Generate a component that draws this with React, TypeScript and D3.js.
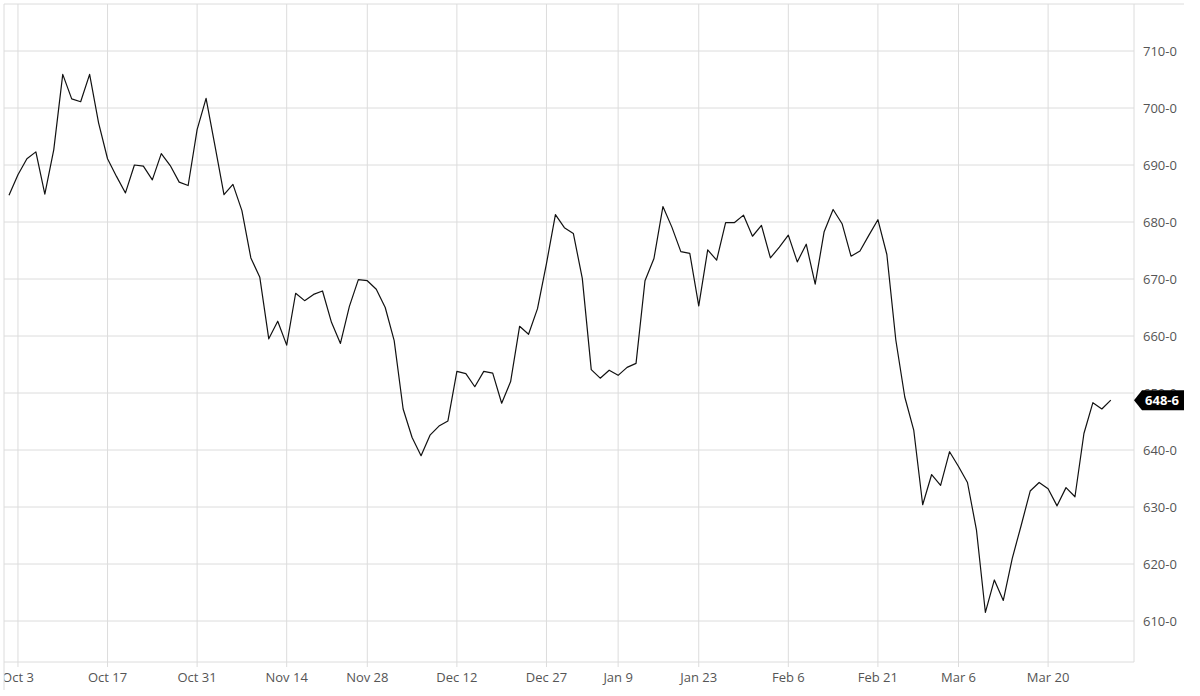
import React from "react";
import * as d3 from "d3";

// ---- Data ----
const startDate = "2022-09-30";
const endDate = "2023-03-29";
const holidays = ["2022-11-24", "2022-12-26", "2023-01-02", "2023-01-16", "2023-02-20"];

const prices = [
  684.7, 688.3, 691.1, 692.3, 684.9, 692.7, 705.9, 701.6, 701.1, 705.9,
  697.4, 691.1, 688.0, 685.1, 690.0, 689.8, 687.4, 692.0, 689.9, 687.0,
  686.4, 696.2, 701.7, 693.3, 684.8, 686.6, 682.0, 673.7, 670.3, 659.5,
  662.6, 658.4, 667.5, 666.2, 667.3, 667.9, 662.4, 658.7, 665.2, 669.9,
  669.7, 668.2, 665.0, 659.2, 647.2, 642.2, 639.0, 642.6, 644.2, 645.1,
  653.8, 653.4, 651.1, 653.8, 653.5, 648.2, 652.0, 661.7, 660.3, 664.8,
  672.7, 681.3, 679.0, 678.0, 670.1, 654.1, 652.6, 654.0, 653.1, 654.5,
  655.2, 669.7, 673.6, 682.7, 679.1, 674.8, 674.5, 665.3, 675.1, 673.3,
  679.9, 679.9, 681.2, 677.5, 679.4, 673.7, 675.6, 677.7, 673.0, 676.1,
  669.1, 678.3, 682.2, 679.7, 674.0, 674.9, 677.7, 680.4, 674.3, 659.3,
  649.3, 643.5, 630.4, 635.7, 633.8, 639.7, 637.1, 634.3, 626.0, 611.5,
  617.2, 613.6, 621.0, 626.8, 632.8, 634.3, 633.2, 630.2, 633.4, 631.8,
  642.9, 648.3, 647.2, 648.75,
];

const xTickDates = [
  "2022-10-03", "2022-10-17", "2022-10-31", "2022-11-14", "2022-11-28",
  "2022-12-12", "2022-12-27", "2023-01-09", "2023-01-23", "2023-02-06",
  "2023-02-21", "2023-03-06", "2023-03-20",
];
const yTicks = [610, 620, 630, 640, 650, 660, 670, 680, 690, 700, 710];

// trading calendar (weekdays minus exchange holidays)
const parse = d3.utcParse("%Y-%m-%d");
const fmtKey = d3.utcFormat("%Y-%m-%d");
const tradingDays: string[] = d3.utcDays(parse(startDate)!, d3.utcDay.offset(parse(endDate)!, 1))
  .filter((d) => d.getUTCDay() !== 0 && d.getUTCDay() !== 6)
  .map((d) => fmtKey(d))
  .filter((k) => !holidays.includes(k));

const fmtTick = d3.utcFormat("%b %-d");
const fmtPrice = (v: number) => {
  const whole = Math.floor(v + 1e-9);
  const eighths = Math.round((v - whole) * 8);
  return `${whole}-${eighths}`;
};

export default function App() {
  const W = 1200;
  const H = 696;
  const plot = { left: 4, right: 1134, top: 4, bottom: 662 };

  const x = d3.scalePoint<string>().domain(tradingDays).range([9, 1110.8]);
  const y = d3.scaleLinear().domain([610, 710]).range([621, 51]);

  const data = tradingDays.map((d, i) => ({ d, v: prices[i] }));
  const line = d3
    .line<{ d: string; v: number }>()
    .x((p) => x(p.d)!)
    .y((p) => y(p.v));

  const last = prices[prices.length - 1];
  const ly = y(last);
  const font = "'Open Sans', 'Noto Sans', sans-serif";
  const grid = "#dcdcdc";

  return (
    <svg
      width={W}
      height={H}
      style={{ position: "absolute", left: 0, top: 0, background: "#fff" }}
      fontFamily={font}
    >
      <defs>
        <clipPath id="xlab">
          <rect x={plot.left + 0.5} y={plot.bottom} width={W} height={H - plot.bottom} />
        </clipPath>
      </defs>
      {/* horizontal grid */}
      {yTicks.map((t) => (
        <line key={"h" + t} x1={plot.left} x2={plot.right} y1={y(t)} y2={y(t)} stroke={grid} strokeWidth={1} />
      ))}
      {/* vertical grid + ticks */}
      {xTickDates.map((t) => (
        <line key={"v" + t} x1={x(t)} x2={x(t)} y1={plot.top} y2={plot.bottom + 5} stroke={grid} strokeWidth={1} />
      ))}
      {/* frame */}
      <line x1={plot.left} x2={1184} y1={plot.top} y2={plot.top} stroke={grid} />
      <line x1={plot.left} x2={plot.left} y1={plot.top} y2={690} stroke={grid} />
      <line x1={plot.right} x2={plot.right} y1={plot.top} y2={plot.bottom} stroke={grid} />
      <line x1={plot.left} x2={plot.right} y1={plot.bottom} y2={plot.bottom} stroke={grid} />

      {/* x labels */}
      <g clipPath="url(#xlab)">
        {xTickDates.map((t) => (
          <text key={"xl" + t} x={x(t)} y={682} textAnchor="middle" fontSize={13} fill="#555">
            {fmtTick(parse(t)!)}
          </text>
        ))}
      </g>

      {/* y labels */}
      {yTicks.map((t) => (
        <text key={"yl" + t} x={1143} y={y(t)} dy="0.35em" fontSize={13} fill="#555">
          {fmtPrice(t)}
        </text>
      ))}

      {/* price line */}
      <path d={line(data) || ""} fill="none" stroke="#111" strokeWidth={1.2} strokeLinejoin="round" />

      {/* last price tag */}
      <path
        d={`M${plot.right},${ly} L${plot.right + 8},${ly - 10} L1184,${ly - 10} L1184,${ly + 10} L${plot.right + 8},${ly + 10} Z`}
        fill="#000"
      />
      <text x={1162} y={ly} dy="0.35em" textAnchor="middle" fontSize={13} fontWeight="bold" fill="#fff">
        {fmtPrice(last)}
      </text>
    </svg>
  );
}
